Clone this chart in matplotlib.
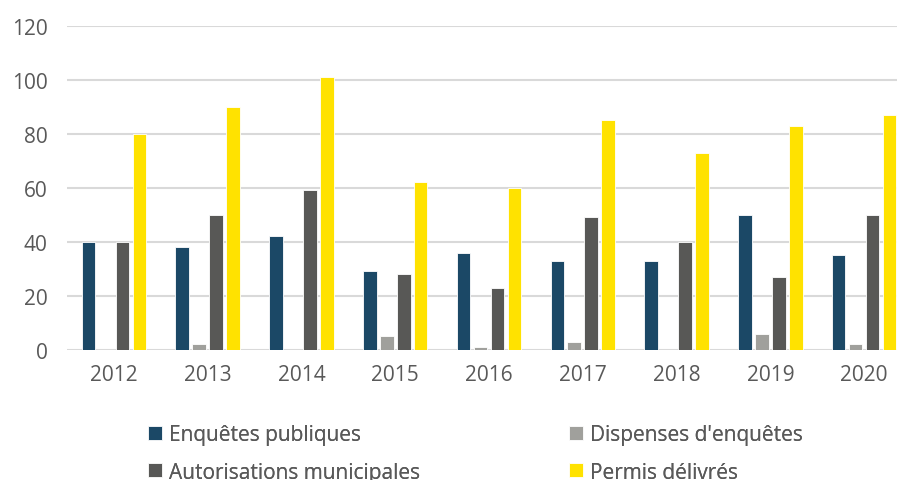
import matplotlib.pyplot as plt
import numpy as np

plt.rcParams['font.family'] = ['Open Sans', 'DejaVu Sans']

years = ['2012', '2013', '2014', '2015', '2016', '2017', '2018', '2019', '2020']
enquetes = [40, 38, 42, 29, 36, 33, 33, 50, 35]
dispenses = [0, 2, 0, 5, 1, 3, 0, 6, 2]
autorisations = [40, 50, 59, 28, 23, 49, 40, 27, 50]
permis = [80, 90, 101, 62, 60, 85, 73, 83, 87]

series = [
    ('Enquêtes publiques', enquetes, '#1B4866'),
    ("Dispenses d'enquêtes", dispenses, '#A0A09C'),
    ('Autorisations municipales', autorisations, '#585856'),
    ('Permis délivrés', permis, '#FFE200'),
]

fig = plt.figure(figsize=(8.97, 4.81), dpi=100)
# the original image is cropped on the right, so the axes run past the edge
ax = fig.add_axes([67 / 897, 1 - 350.7 / 481, 844 / 897, 324 / 481])

x = np.arange(len(years))
step = 0.181
width = 0.145
bars = []
for i, (name, vals, col) in enumerate(series):
    b = ax.bar(x + (i - 1.5) * step, vals, width, color=col, label=name,
               edgecolor='white', linewidth=0.6, zorder=3)
    bars.append(b)

ax.set_xlim(-0.5, 8.5)
ax.set_ylim(0, 120)
ax.set_yticks(range(0, 121, 20))
ax.set_xticks(x)
ax.set_xticklabels(years)
ax.grid(axis='y', color='#D9D9D9', linewidth=1.5, zorder=0)
for s in ax.spines.values():
    s.set_visible(False)
ax.tick_params(length=0, labelsize=15, colors='#595959', pad=14)
ax.tick_params(axis='x', pad=10)

# two legend columns placed separately
for col_idx, x0 in [((0, 2), 148), ((1, 3), 569)]:
    leg = fig.legend([bars[i] for i in col_idx], [series[i][0] for i in col_idx],
                     loc='upper left', bbox_to_anchor=(x0 / 897, 1 - 425 / 481),
                     frameon=False, fontsize=15, labelcolor='#595959',
                     handlelength=0.67, handleheight=0.67, handletextpad=0.34,
                     borderpad=0, borderaxespad=0, labelspacing=0.8)
    fig.add_artist(leg)

fig.savefig('out.png', dpi=100)
